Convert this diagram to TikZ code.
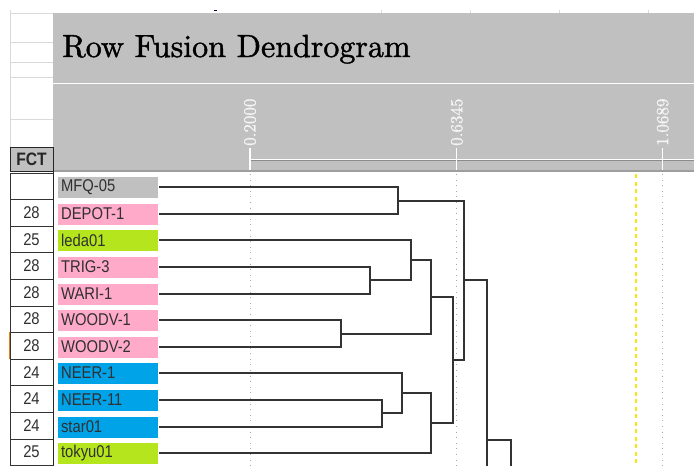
\documentclass[tikz,border=0pt]{standalone}
\usepackage{fontspec}
\usepackage{xcolor}
\usepackage{tikz}
\usetikzlibrary{positioning}
\newfontfamily\cellfont[FakeStretch=0.87]{Liberation Sans}
\newfontfamily\titlefont[FakeBold=1.3]{lmroman10-regular.otf}
\newfontfamily\scalefont[FakeBold=1.2]{lmroman10-regular.otf}
\definecolor{hdrgray}{HTML}{C0C0C0}
\definecolor{pinkbox}{HTML}{FFAAC9}
\definecolor{limebox}{HTML}{B5E61D}
\definecolor{bluebox}{HTML}{00A2E8}
\definecolor{treegray}{HTML}{333333}
\definecolor{txtgray}{HTML}{303030}
\definecolor{sheetline}{HTML}{DADADA}

\begin{document}
\begin{tikzpicture}[x=1pt, y=-1pt,
    leaf/.style={fill=#1, draw=white, line width=0.8pt, anchor=west, minimum width=101.6pt,
        minimum height=22pt, inner xsep=4pt, inner ysep=0pt, text width=93.6pt, align=left,
        text=txtgray, font=\cellfont\fontsize{17}{17}\selectfont},
    numcell/.style={draw=black!80, fill=white, minimum width=43pt, minimum height=26.6pt,
        inner sep=0pt, text=txtgray, font=\cellfont\fontsize{17}{17}\selectfont},
    fctcell/.style={draw=black!85, fill=hdrgray, line width=1pt, minimum width=43pt,
        minimum height=24pt, inner sep=0pt, text=black!85,
        font=\cellfont\bfseries\fontsize{18}{18}\selectfont},
    scalelabel/.style={rotate=90, anchor=west, inner sep=0pt, text=white!96!black,
        font=\scalefont\fontsize{17}{17}\selectfont},
    tree/.style={draw=treegray, line width=1.8pt},
    gridline/.style={draw=black!35, line width=0.9pt, dash pattern=on 1pt off 4.6pt},
]
\useasboundingbox (0,0) rectangle (694,466);

\draw[sheetline] (10,10) -- (10,147) (10,13) -- (694,13);
\draw[sheetline] (10,41.7) -- (53,41.7) (10,62) -- (53,62) (10,77) -- (53,77) (10,119.3) -- (53,119.3);
\draw[sheetline] (380.7,10) -- (380.7,13) (470,10) -- (470,13) (559,10) -- (559,13) (648,10) -- (648,13);
\fill[black!80!blue] (214,9.8) rectangle (216.5,11.2);

\fill[hdrgray] (53.3,13.3) rectangle (694,170);
\draw[white, line width=1.5pt] (53.3,83.3) -- (694,83.3);
\draw[black!38, line width=2pt] (53.3,171) -- (694,171);
\node[anchor=base west, inner sep=0pt, font=\titlefont\fontsize{32}{32}\selectfont] (title) at (62,57) {Row Fusion Dendrogram};

\draw[black!45, line width=0.8pt] (251,160.6) -- (694,160.6);
\draw[white, line width=1pt] (251,159.3) -- (694,159.3);
\draw[white, line width=1.2pt] (250,148) -- (250,169.5) (456.7,148) -- (456.7,169.5) (662.7,148) -- (662.7,169.5);
\node[scalelabel] (s1) at (250,146) {0.2000};
\node[scalelabel] (s2) at (456.7,146) {0.6345};
\node[scalelabel] (s3) at (662.7,146) {1.0689};

\draw[gridline] (250,174) -- (250,466);
\draw[gridline] (456.7,174) -- (456.7,466);
\draw[gridline] (662.7,174) -- (662.7,466);
\draw[yellow!95!black, line width=1.3pt, dash pattern=on 4pt off 3.5pt] (636,174) -- (636,466);

\node[fctcell] (fct) at (31.5,159.2) {FCT};

\node[numcell] (n0) at (31.5,186) {};
\node[numcell] (n1) at (31.5,212.6) {28};
\node[numcell] (n2) at (31.5,239.2) {25};
\node[numcell] (n3) at (31.5,265.8) {28};
\node[numcell] (n4) at (31.5,292.4) {28};
\node[numcell] (n5) at (31.5,319) {28};
\node[numcell] (n6) at (31.5,345.6) {28};
\node[numcell] (n7) at (31.5,372.2) {24};
\node[numcell] (n8) at (31.5,398.8) {24};
\node[numcell] (n9) at (31.5,425.4) {24};
\node[numcell] (n10) at (31.5,452) {25};
\draw[orange!70!brown, line width=0.7pt] (n6.north west) -- (n6.south west);
\draw[black!85, line width=1.6pt] (53.3,147) -- (53.3,466);

\node[leaf=hdrgray] (l0) at (56.7,187) {MFQ-05};
\node[leaf=pinkbox] (l1) at (56.7,214) {DEPOT-1};
\node[leaf=limebox] (l2) at (56.7,240) {leda01};
\node[leaf=pinkbox] (l3) at (56.7,267) {TRIG-3};
\node[leaf=pinkbox] (l4) at (56.7,294) {WARI-1};
\node[leaf=pinkbox] (l5) at (56.7,320) {WOODV-1};
\node[leaf=pinkbox] (l6) at (56.7,347) {WOODV-2};
\node[leaf=bluebox] (l7) at (56.7,373) {NEER-1};
\node[leaf=bluebox] (l8) at (56.7,400) {NEER-11};
\node[leaf=bluebox] (l9) at (56.7,427) {star01};
\node[leaf=limebox] (l10) at (56.7,453) {tokyu01};

\coordinate (ma) at (398,201);
\coordinate (mb) at (370,280);
\coordinate (mc) at (411,260);
\coordinate (md) at (341,334);
\coordinate (me) at (431,297);
\coordinate (mf) at (382,413);
\coordinate (mg) at (402,393);
\coordinate (mh) at (431,423);
\coordinate (mi) at (453,360);
\coordinate (mj) at (464,280);
\coordinate (mk) at (487,440);
\coordinate (mkend) at (487,467);
\coordinate (mlend) at (511,467);

\draw[tree] (l0.east) -| (ma) |- (l1.east);
\draw[tree] (l3.east) -| (mb) |- (l4.east);
\draw[tree] (l2.east) -| (mc) |- (mb);
\draw[tree] (l5.east) -| (md) |- (l6.east);
\draw[tree] (mc) -| (me) |- (md);
\draw[tree] (l8.east) -| (mf) |- (l9.east);
\draw[tree] (l7.east) -| (mg) |- (mf);
\draw[tree] (mg) -| (mh) |- (l10.east);
\draw[tree] (me) -| (mi) |- (mh);
\draw[tree] (ma) -| (mj) |- (mi);
\draw[tree] (mj) -| (mk) -- (mkend);
\draw[tree] (mk) -| (mlend);

\end{tikzpicture}
\end{document}
